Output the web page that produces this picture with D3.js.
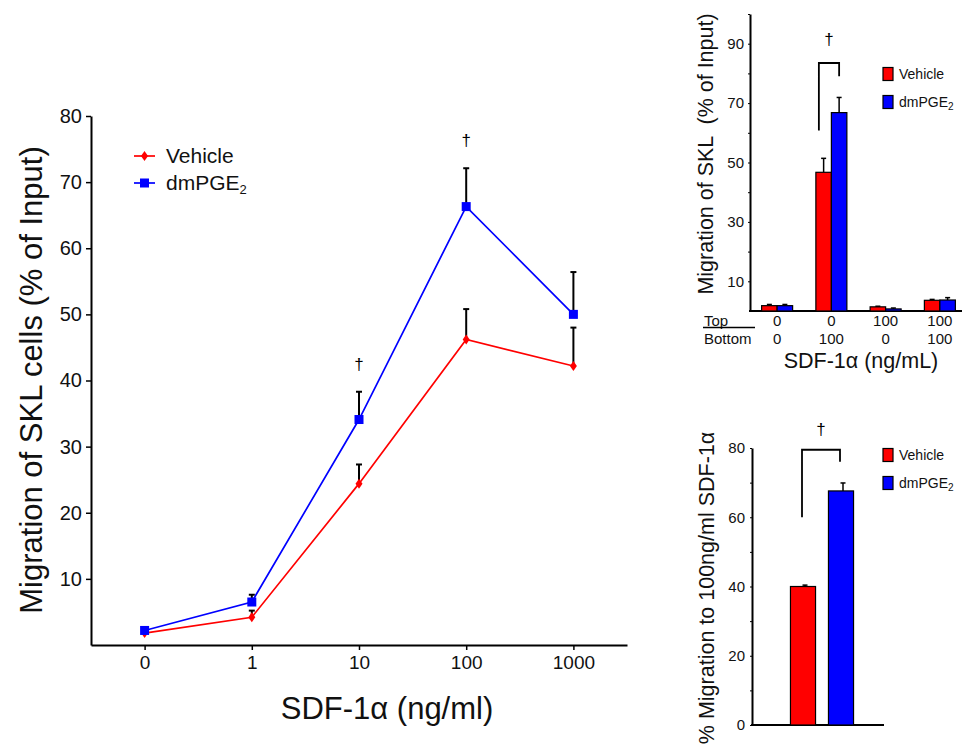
<!DOCTYPE html>
<html>
<head>
<meta charset="utf-8">
<script src="https://cdn.jsdelivr.net/npm/d3@7"></script>
<style>
  html, body { margin: 0; padding: 0; background: #fff; }
  svg { display: block; font-family: "Liberation Sans", Arial, sans-serif; }
  .axis path, .axis line { stroke: #000; }
</style>
</head>
<body>
<svg id="chart" width="964" height="751"></svg>
<script>
// ---- Dose–response (main panel) ----
const doses = ["0", "1", "10", "100", "1000"];
const vehicleMean = [1.8, 4.2, 24.4, 46.2, 42.2];
const vehicleErr  = [0.0, 1.0, 2.9, 4.6, 5.8];
const pgeMean     = [2.2, 6.5, 34.1, 66.3, 50.0];
const pgeErr      = [0.0, 1.1, 4.2, 5.8, 6.4];
const mainYTicks  = [10, 20, 30, 40, 50, 60, 70, 80];
const mainDaggers = ["10", "100"];

// ---- Top/bottom chamber panel ----
const chamberGroups = ["0/0", "0/100", "100/0", "100/100"];
const chamberTop    = ["0", "0", "100", "100"];
const chamberBottom = ["0", "100", "0", "100"];
const chamberVehicle    = [1.8, 46.7, 1.4, 3.6];
const chamberVehicleErr = [0.4, 4.7, 0.2, 0.3];
const chamberPge        = [1.8, 66.8, 0.7, 3.7];
const chamberPgeErr     = [0.4, 5.1, 0.3, 0.8];
const chamberTicks      = [10, 30, 50, 70, 90];

// ---- Migration to 100 ng/ml panel ----
const treatments = ["Vehicle", "dmPGE2"];
const pctMigration = [40.0, 67.6];
const pctErr       = [0.4, 2.3];
const pctTicks     = [0, 20, 40, 60, 80];

const RED = "#ff0000", BLUE = "#0000ff";
const svg = d3.select("#chart");

// ================= Main panel =================
const x = d3.scalePoint().domain(doses).range([91, 627]).padding(0.5);
const y = d3.scaleLinear().domain([0, 80]).range([645, 116]);

const gx = svg.append("g").attr("class", "axis")
  .attr("transform", "translate(0,645)")
  .call(d3.axisBottom(x).tickSizeInner(5).tickSizeOuter(0).tickPadding(6));
gx.select(".domain").attr("stroke-width", 2);
gx.selectAll(".tick line").attr("stroke-width", 1.5);
gx.selectAll("text").attr("font-size", 19).attr("fill", "#111").attr("font-family", null);

const gy = svg.append("g").attr("class", "axis")
  .attr("transform", "translate(91,0)")
  .call(d3.axisLeft(y).tickValues(mainYTicks).tickSizeInner(5).tickSizeOuter(0).tickPadding(4));
gy.select(".domain").attr("stroke-width", 2);
gy.selectAll(".tick line").attr("stroke-width", 1.5);
gy.selectAll("text").attr("font-size", 20).attr("fill", "#111").attr("font-family", null);

svg.append("text")
  .attr("transform", "translate(42,380) rotate(-90)")
  .attr("text-anchor", "middle").attr("font-size", 31).attr("fill", "#111")
  .text("Migration of SKL cells (% of Input)");

svg.append("text")
  .attr("x", 387).attr("y", 719)
  .attr("text-anchor", "middle").attr("font-size", 31).attr("fill", "#111")
  .text("SDF-1α (ng/ml)");

const series = [
  { name: "Vehicle", mean: vehicleMean, err: vehicleErr, color: RED, shape: "diamond" },
  { name: "dmPGE2", mean: pgeMean, err: pgeErr, color: BLUE, shape: "square" }
];

const line = d3.line().x(d => x(d.dose)).y(d => y(d.v));

// error bars (upward only, capped)
series.forEach(s => {
  const pts = doses.map((d, i) => ({ dose: d, v: s.mean[i], e: s.err[i] })).filter(p => p.e > 0);
  const g = svg.append("g");
  g.selectAll("line.eb").data(pts).join("line")
    .attr("x1", p => x(p.dose)).attr("x2", p => x(p.dose))
    .attr("y1", p => y(p.v)).attr("y2", p => y(p.v + p.e))
    .attr("stroke", "#000").attr("stroke-width", 2);
  g.selectAll("line.cap").data(pts).join("line")
    .attr("x1", p => x(p.dose) - 3).attr("x2", p => x(p.dose) + 3)
    .attr("y1", p => y(p.v + p.e)).attr("y2", p => y(p.v + p.e))
    .attr("stroke", "#000").attr("stroke-width", 2);
});

function marker(g, shape, color, cx, cy) {
  if (shape === "square") {
    g.append("rect").attr("x", cx - 4.5).attr("y", cy - 4.5).attr("width", 9).attr("height", 9).attr("fill", color);
  } else {
    g.append("path").attr("d", `M${cx},${cy - 5}L${cx + 3.5},${cy}L${cx},${cy + 5}L${cx - 3.5},${cy}Z`).attr("fill", color);
  }
}

series.forEach(s => {
  const pts = doses.map((d, i) => ({ dose: d, v: s.mean[i] }));
  svg.append("path").datum(pts).attr("d", line)
    .attr("fill", "none").attr("stroke", s.color).attr("stroke-width", 1.7);
  const g = svg.append("g");
  pts.forEach(p => marker(g, s.shape, s.color, x(p.dose), y(p.v)));
});

// significance daggers above the dmPGE2 error bars
mainDaggers.forEach(d => {
  const i = doses.indexOf(d);
  svg.append("text")
    .attr("x", x(d)).attr("y", y(pgeMean[i] + pgeErr[i]) - 22)
    .attr("text-anchor", "middle").attr("font-size", 17).attr("fill", "#000")
    .text("†");
});

// legend
series.forEach((s, i) => {
  const ly = 156 + i * 27;
  svg.append("line").attr("x1", 134).attr("x2", 155).attr("y1", ly).attr("y2", ly)
    .attr("stroke", s.color).attr("stroke-width", 1.7);
  marker(svg, s.shape, s.color, 144.5, ly);
  const t = svg.append("text").attr("x", 166).attr("y", ly + 7).attr("font-size", 21).attr("fill", "#111");
  if (s.name === "dmPGE2") {
    t.append("tspan").text("dmPGE");
    t.append("tspan").attr("font-size", 13).attr("dy", 4).text("2");
  } else {
    t.text(s.name);
  }
});

// ================= Top-right panel =================
const x2 = d3.scaleBand().domain(chamberGroups).range([750, 967]);
const y2 = d3.scaleLinear().domain([0, 100]).range([311, 14]);
const sub2 = d3.scaleBand().domain(treatments).range([-15.5, 15.5]);

const gy2 = svg.append("g").attr("class", "axis")
  .attr("transform", "translate(750,0)")
  .call(d3.axisLeft(y2).tickValues(d3.range(10, 101, 10)).tickSizeInner(2).tickSizeOuter(0).tickPadding(4)
    .tickFormat(v => chamberTicks.includes(v) ? v : ""));
gy2.select(".domain").attr("stroke-width", 2);
gy2.selectAll("text").attr("font-size", 15).attr("fill", "#111").attr("font-family", null);

svg.append("line").attr("x1", 749).attr("x2", 962).attr("y1", 311).attr("y2", 311)
  .attr("stroke", "#000").attr("stroke-width", 2);

const chamberData = [
  { name: "Vehicle", mean: chamberVehicle, err: chamberVehicleErr, color: RED },
  { name: "dmPGE2", mean: chamberPge, err: chamberPgeErr, color: BLUE }
];
chamberData.forEach(s => {
  chamberGroups.forEach((gname, i) => {
    const cx = x2(gname) + x2.bandwidth() / 2 + sub2(s.name);
    const bw = sub2.bandwidth();
    // error bar drawn first so the bar sits over its lower half
    svg.append("line")
      .attr("x1", cx + bw / 2).attr("x2", cx + bw / 2)
      .attr("y1", y2(s.mean[i])).attr("y2", y2(s.mean[i] + s.err[i]))
      .attr("stroke", "#000").attr("stroke-width", 1.5);
    svg.append("line")
      .attr("x1", cx + bw / 2 - 2.5).attr("x2", cx + bw / 2 + 2.5)
      .attr("y1", y2(s.mean[i] + s.err[i])).attr("y2", y2(s.mean[i] + s.err[i]))
      .attr("stroke", "#000").attr("stroke-width", 1.5);
    svg.append("rect")
      .attr("x", cx).attr("y", y2(s.mean[i]))
      .attr("width", bw).attr("height", y2(0) - y2(s.mean[i]))
      .attr("fill", s.color).attr("stroke", "#000").attr("stroke-width", 1.2);
  });
});

// significance bracket between the 0/100 bars
{
  const g0 = chamberGroups[1];
  const xl = x2(g0) + x2.bandwidth() / 2 + sub2("Vehicle") + 3;
  const xr = x2(g0) + x2.bandwidth() / 2 + sub2("dmPGE2") + sub2.bandwidth() / 2;
  svg.append("path")
    .attr("d", `M${xl},${y2(60.8)}V${y2(83.5)}H${xr}V${y2(79)}`)
    .attr("fill", "none").attr("stroke", "#000").attr("stroke-width", 1.8);
  svg.append("text").attr("x", (xl + xr) / 2).attr("y", 45)
    .attr("text-anchor", "middle").attr("font-size", 17).attr("fill", "#000").text("†");
}

// category rows
svg.append("text").attr("x", 704).attr("y", 326).attr("font-size", 15).attr("fill", "#111").text("Top");
svg.append("line").attr("x1", 703).attr("x2", 755).attr("y1", 327.5).attr("y2", 327.5)
  .attr("stroke", "#000").attr("stroke-width", 1.5);
svg.append("text").attr("x", 704).attr("y", 344).attr("font-size", 15).attr("fill", "#111").text("Bottom");
chamberGroups.forEach((gname, i) => {
  const cx = x2(gname) + x2.bandwidth() / 2;
  svg.append("text").attr("x", cx).attr("y", 326).attr("text-anchor", "middle")
    .attr("font-size", 15).attr("fill", "#111").text(chamberTop[i]);
  svg.append("text").attr("x", cx).attr("y", 344).attr("text-anchor", "middle")
    .attr("font-size", 15).attr("fill", "#111").text(chamberBottom[i]);
});
svg.append("text").attr("x", 861).attr("y", 368).attr("text-anchor", "middle")
  .attr("font-size", 21.5).attr("fill", "#111").text("SDF-1α (ng/mL)");

svg.append("text")
  .attr("transform", "translate(713,154) rotate(-90)")
  .attr("text-anchor", "middle").attr("font-size", 21.5).attr("fill", "#111")
  .attr("xml:space", "preserve")
  .text("Migration of SKL  (% of Input)");

function barLegend(x0, y0, gap) {
  chamberData.forEach((s, i) => {
    const ly = y0 + i * gap;
    svg.append("rect").attr("x", x0).attr("y", ly - 6.5).attr("width", 10).attr("height", 13)
      .attr("fill", s.color).attr("stroke", "#000").attr("stroke-width", 1.2);
    const t = svg.append("text").attr("x", x0 + 16).attr("y", ly + 5).attr("font-size", 14).attr("fill", "#111");
    if (s.name === "dmPGE2") {
      t.append("tspan").text("dmPGE");
      t.append("tspan").attr("font-size", 10).attr("dy", 3).text("2");
    } else {
      t.text(s.name);
    }
  });
}
barLegend(883, 74, 28);

// ================= Bottom-right panel =================
const x3 = d3.scaleBand().domain(treatments).range([784, 860]).paddingInner(0.34).paddingOuter(0.17);
const y3 = d3.scaleLinear().domain([0, 80]).range([725, 448]);

const gy3 = svg.append("g").attr("class", "axis")
  .attr("transform", "translate(752,0)")
  .call(d3.axisLeft(y3).tickValues(d3.range(0, 81, 10)).tickSizeInner(2).tickSizeOuter(0).tickPadding(5)
    .tickFormat(v => pctTicks.includes(v) ? v : ""));
gy3.select(".domain").attr("stroke-width", 2);
gy3.selectAll("text").attr("font-size", 15).attr("fill", "#111").attr("font-family", null);

svg.append("line").attr("x1", 751).attr("x2", 884).attr("y1", 725).attr("y2", 725)
  .attr("stroke", "#000").attr("stroke-width", 2);

treatments.forEach((t, i) => {
  const bx = x3(t), bw = x3.bandwidth();
  svg.append("line")
    .attr("x1", bx + bw / 2 + 2).attr("x2", bx + bw / 2 + 2)
    .attr("y1", y3(pctMigration[i])).attr("y2", y3(pctMigration[i] + pctErr[i]))
    .attr("stroke", "#000").attr("stroke-width", 1.5);
  svg.append("line")
    .attr("x1", bx + bw / 2 - 0.5).attr("x2", bx + bw / 2 + 4.5)
    .attr("y1", y3(pctMigration[i] + pctErr[i])).attr("y2", y3(pctMigration[i] + pctErr[i]))
    .attr("stroke", "#000").attr("stroke-width", 1.5);
  svg.append("rect")
    .attr("x", bx).attr("y", y3(pctMigration[i]))
    .attr("width", bw).attr("height", y3(0) - y3(pctMigration[i]))
    .attr("fill", chamberData[i].color).attr("stroke", "#000").attr("stroke-width", 1.2);
});

{
  const xl = x3("Vehicle") + x3.bandwidth() / 2 - 1;
  const xr = x3("dmPGE2") + x3.bandwidth() / 2 - 1;
  svg.append("path")
    .attr("d", `M${xl},${y3(60)}V${y3(79.5)}H${xr}V${y3(76)}`)
    .attr("fill", "none").attr("stroke", "#000").attr("stroke-width", 1.8);
  svg.append("text").attr("x", (xl + xr) / 2).attr("y", 435)
    .attr("text-anchor", "middle").attr("font-size", 17).attr("fill", "#000").text("†");
}

svg.append("text")
  .attr("transform", "translate(714,588) rotate(-90)")
  .attr("text-anchor", "middle").attr("font-size", 21.5).attr("fill", "#111")
  .text("% Migration to 100ng/ml SDF-1α");

barLegend(883, 455, 28);
</script>
</body>
</html>
